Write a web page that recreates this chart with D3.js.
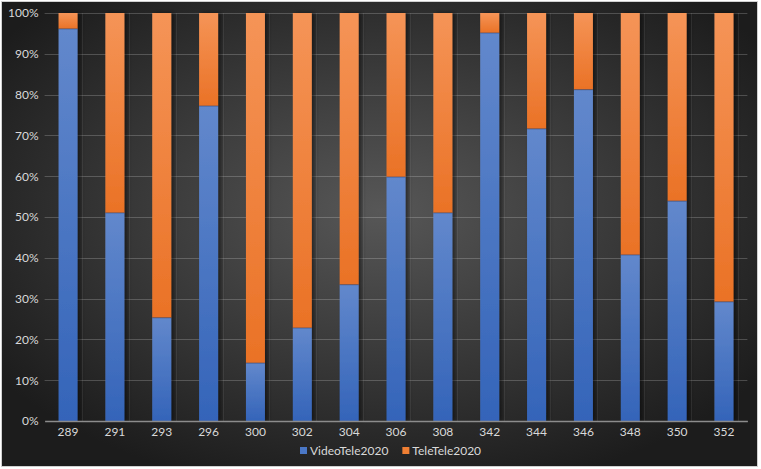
<!DOCTYPE html>
<html><head><meta charset="utf-8">
<script src="https://cdn.jsdelivr.net/npm/d3@7"></script>
<style>html,body{margin:0;padding:0;background:#fff;}svg{display:block;}</style>
</head><body>
<svg id="chart" width="761" height="469"></svg>
<script>
const categories = ["289","291","293","296","300","302","304","306","308","342","344","346","348","350","352"];
const videoTele = [96.1, 51.0, 25.3, 77.2, 14.2, 22.8, 33.4, 59.8, 51.0, 95.1, 71.6, 81.2, 40.7, 53.9, 29.2];
const teleTele  = [3.9, 49.0, 74.7, 22.8, 85.8, 77.2, 66.6, 40.2, 49.0, 4.9, 28.4, 18.8, 59.3, 46.1, 70.8];
const seriesNames = ["VideoTele2020", "TeleTele2020"];
const yTicks = [0,0.1,0.2,0.3,0.4,0.5,0.6,0.7,0.8,0.9,1];

const svg = d3.select("#chart");
const W = 761, H = 469;
const m = {left: 44.6, right: 13.6, top: 13, bottom: 48};
const defs = svg.append("defs");

const bg = defs.append("radialGradient").attr("id","bg").attr("cx","50%").attr("cy","45%").attr("r","62%");
bg.append("stop").attr("offset","0%").attr("stop-color","#575757");
bg.append("stop").attr("offset","100%").attr("stop-color","#1c1c1c");

function lg(id, c1, c2){
  const g = defs.append("linearGradient").attr("id",id).attr("x1",0).attr("y1",0).attr("x2",0).attr("y2",1);
  g.append("stop").attr("offset","0%").attr("stop-color",c1);
  g.append("stop").attr("offset","100%").attr("stop-color",c2);
}
lg("gBlue","#6288cc","#3464b9");
lg("gOrange","#f59457","#ea7226");

const f = defs.append("filter").attr("id","sh").attr("x","-50%").attr("y","-5%").attr("width","200%").attr("height","110%");
f.append("feDropShadow").attr("dx",3).attr("dy",0).attr("stdDeviation",2).attr("flood-color","#000").attr("flood-opacity",0.5);

svg.append("rect").attr("x",1.5).attr("y",1.5).attr("width",W-5).attr("height",H-4)
  .attr("fill","url(#bg)").attr("stroke","#d0d0d0").attr("stroke-width",1);

const x = d3.scaleBand().domain(categories).range([m.left, W - m.right]).paddingInner(0.595).paddingOuter(0.2975);
const y = d3.scaleLinear().domain([0,1]).range([H - m.bottom, m.top]);

// vertical gridlines
const vx = [];
categories.forEach(c => { vx.push(x(c)); vx.push(x(c) + x.step()/2); });
svg.append("g").selectAll("line").data(vx.filter(v => v < W - m.right)).join("line")
  .attr("x1", d => Math.round(d)+0.5).attr("x2", d => Math.round(d)+0.5)
  .attr("y1", y(1)).attr("y2", y(0))
  .attr("stroke","#ffffff").attr("stroke-opacity",0.09);

// horizontal gridlines
svg.append("g").selectAll("line").data(yTicks.slice(1)).join("line")
  .attr("x1", m.left).attr("x2", W - m.right)
  .attr("y1", d => Math.round(y(d))+0.5).attr("y2", d => Math.round(y(d))+0.5)
  .attr("stroke","#ffffff").attr("stroke-opacity",0.2);

const data = categories.map((c,i) => {
  const tot = videoTele[i] + teleTele[i];
  return {c, v: videoTele[i]/tot, t: teleTele[i]/tot};
});

const bars = svg.append("g").attr("filter","url(#sh)");
bars.selectAll("rect.v").data(data).join("rect").attr("class","v")
  .attr("x", d => x(d.c)).attr("width", x.bandwidth())
  .attr("y", d => y(d.v)).attr("height", d => y(0) - y(d.v))
  .attr("fill","url(#gBlue)");
bars.selectAll("rect.t").data(data).join("rect").attr("class","t")
  .attr("x", d => x(d.c)).attr("width", x.bandwidth())
  .attr("y", d => y(1)).attr("height", d => y(d.v) - y(1))
  .attr("fill","url(#gOrange)");
svg.append("g").selectAll("line").data(data).join("line")
  .attr("x1", d => x(d.c)).attr("x2", d => x(d.c) + x.bandwidth())
  .attr("y1", d => y(d.v)).attr("y2", d => y(d.v))
  .attr("stroke","#2b4a80").attr("stroke-opacity",0.6).attr("stroke-width",1);

// axes
const font = "Lato, 'Open Sans', sans-serif";
const yAxis = svg.append("g").attr("transform",`translate(${m.left},0)`)
  .call(d3.axisLeft(y).tickValues(yTicks).tickFormat(d3.format(".0%")).tickSize(0).tickPadding(6));
yAxis.select(".domain").remove();
yAxis.selectAll("text").attr("fill","#d9d9d9").style("font-family",font).style("font-size","12px");

const xAxis = svg.append("g").attr("transform",`translate(0,${y(0)})`)
  .call(d3.axisBottom(x).tickSize(0).tickPadding(6));
xAxis.select(".domain").attr("stroke","#8c8c8c").attr("stroke-width",1.5);
xAxis.selectAll("text").attr("fill","#d9d9d9").style("font-family",font).style("font-size","12px");

// legend
const leg = svg.append("g").attr("transform","translate(300,451)");
const items = [{n: seriesNames[0], c:"#4a77c6"}, {n: seriesNames[1], c:"#f07f33"}];
let lx = 0;
items.forEach(it => {
  leg.append("rect").attr("x",lx).attr("y",-4).attr("width",7).attr("height",7).attr("fill",it.c);
  const t = leg.append("text").attr("x",lx+10).attr("y",0).attr("dy","0.35em")
    .attr("fill","#d9d9d9").style("font-family",font).style("font-size","12px").text(it.n);
  lx += 10 + t.node().getComputedTextLength() + 14;
});
</script>
</body></html>
